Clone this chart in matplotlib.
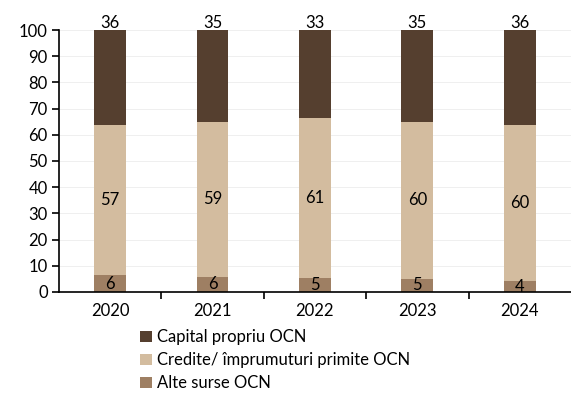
import numpy as np
import matplotlib.pyplot as plt

plt.rcParams['font.family'] = ['Lato', 'DejaVu Sans']

# Data (% of total funding sources)
years = ["2020", "2021", "2022", "2023", "2024"]
alte = [6.3, 5.8, 5.2, 5.1, 4.0]
credite = [57.4, 59.1, 61.4, 59.8, 59.7]
capital = [36.3, 35.1, 33.4, 35.1, 36.3]

c_capital = "#553f2f"
c_credite = "#d3bc9f"
c_alte = "#9e7f63"

fig = plt.figure(figsize=(5.71, 3.96), dpi=100)
ax = fig.add_axes([0.103, 0.263, 0.897, 0.661])

x = np.arange(len(years))
w = 0.31
alte = np.array(alte)
credite = np.array(credite)
capital = np.array(capital)

b1 = ax.bar(x, alte, w, color=c_alte, label="Alte surse OCN", zorder=2)
b2 = ax.bar(x, credite, w, bottom=alte, color=c_credite, label="Credite/ împrumuturi primite OCN", zorder=2)
b3 = ax.bar(x, capital, w, bottom=alte + credite, color=c_capital, label="Capital propriu OCN", zorder=2)

fs = 12
for i in range(len(years)):
    ax.text(x[i], alte[i] / 2, f"{alte[i]:.0f}", ha="center", va="center", fontsize=fs, zorder=3)
    ax.text(x[i], alte[i] + credite[i] / 2, f"{credite[i]:.0f}", ha="center", va="center", fontsize=fs, zorder=3)
    ax.text(x[i], alte[i] + credite[i] + capital[i] - 0.5, f"{capital[i]:.0f}", ha="center", va="bottom",
            fontsize=fs, zorder=3)

ax.set_xlim(-0.5, 4.5)
ax.set_ylim(0, 100)
ax.set_yticks(np.arange(0, 101, 10))
ax.set_xticks(x)
ax.set_xticklabels(years)
ax.set_xticks(x[:-1] + 0.5, minor=True)
ax.tick_params(axis="x", which="major", length=0, pad=8, labelsize=fs)
ax.tick_params(axis="x", which="minor", length=5, width=1.2, direction="out")
ax.tick_params(axis="y", length=5, width=1.2, labelsize=fs, pad=3)

ax.grid(axis="y", color="#ececec", linewidth=0.6, zorder=0)
ax.spines["top"].set_visible(False)
ax.spines["right"].set_visible(False)
ax.spines["left"].set_linewidth(1.2)
ax.spines["bottom"].set_linewidth(1.2)

handles = [b3, b2, b1]
fig.legend(handles, [h.get_label() for h in handles], loc="upper left",
           bbox_to_anchor=(0.245, 0.168), frameon=False, fontsize=fs,
           handlelength=0.7, handleheight=0.7, handletextpad=0.3, labelspacing=0.42,
           borderaxespad=0, borderpad=0)

fig.savefig("out.png", dpi=100)
